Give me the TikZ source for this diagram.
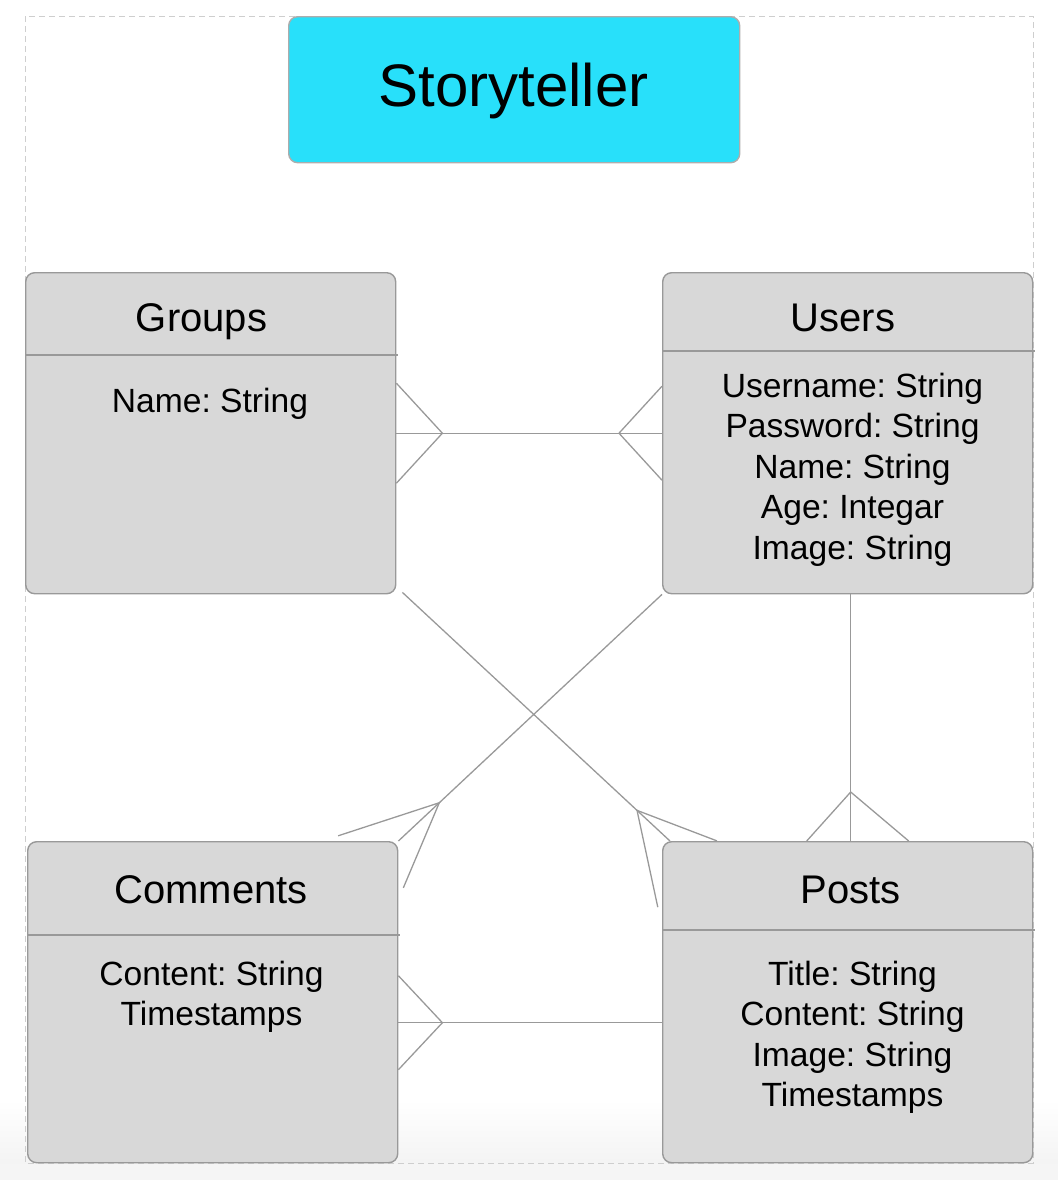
\documentclass[tikz,border=0pt]{standalone}
\usepackage{fontspec}
\setmainfont{Liberation Sans}
\usetikzlibrary{calc}
\definecolor{skycyan}{RGB}{40,224,250}
\definecolor{boxgray}{RGB}{216,216,216}
\definecolor{linegray}{RGB}{153,153,153}
\definecolor{framegray}{RGB}{206,206,206}
\tikzset{
  entity/.style={draw=linegray, fill=boxgray, rounded corners=4.5pt, line width=0.7pt,
    anchor=north west, minimum width=185pt, minimum height=160.5pt, inner sep=0pt},
  heading/.style={anchor=base, font=\fontsize{20}{24}\selectfont},
  field/.style={anchor=base, font=\fontsize{16.8}{20}\selectfont},
  rel/.style={draw=linegray, line width=0.65pt},
}
\frenchspacing

\begin{document}
\begin{tikzpicture}[x=0.5pt, y=-0.5pt]
  \useasboundingbox (0,0) rectangle (1058,1180);
  % page background and frame
  \shade[top color=white, bottom color=gray!9] (0,1100) rectangle (1058,1164);
  \fill[gray!8] (0,1164) rectangle (1058,1180);
  \draw[framegray, line width=0.5pt, dash pattern=on 3pt off 2pt] (25,16) rectangle (1033,1163);

  \node[entity, fill=skycyan, draw=linegray!80, minimum width=225.5pt, minimum height=73pt] (app) at (288,16) {};
  \node[anchor=base, font=\fontsize{30}{36}\selectfont] (apptitle) at (513.5,106.5) {Storyteller};

  % entities
  \node[entity] (groups) at (25,272) {};
  \node[entity] (users) at (662,272) {};
  \node[entity] (comments) at (27,841) {};
  \node[entity] (posts) at (662,841) {};
  \foreach \ent/\dy in {groups/83, users/79, comments/94, posts/89}
    \draw[rel] ($(\ent.north west)+(0,\dy)$) -- ($(\ent.north east)+(2,\dy)$);

  \node[heading] (groups-h) at (201.5,331) {Groups};
  \node[heading] (users-h) at (843,331) {Users};
  \node[heading] (comments-h) at (211,903.5) {Comments};
  \node[heading] (posts-h) at (850.5,903.5) {Posts};

  \node[field] (groups-f1) at (210,412) {Name: String};
  \foreach \lab [count=\i] in {Username: String, Password: String, Name: String, Age: Integar, Image: String}
    \node[field] (users-f\i) at (852.5,356.5+40.5*\i) {\lab};
  \foreach \lab [count=\i] in {Content: String, Timestamps}
    \node[field] (comments-f\i) at (211.5,944.5+40.5*\i) {\lab};
  \foreach \lab [count=\i] in {Title: String, Content: String, Image: String, Timestamps}
    \node[field] (posts-f\i) at (852.5,944.5+40.5*\i) {\lab};

  % groups -- users
  \draw[rel] (groups.east) -- (users.west);
  \draw[rel] ($(groups.east)+(0,-50)$) -- ++(46,50) -- ++(-46,50);
  \draw[rel] ($(users.west)+(0,-47)$) -- ++(-43,47) -- ++(43,47);

  % users -- comments
  \coordinate (ucfoot) at ($(comments.north east)!28pt!(users.south west)$);
  \draw[rel] (users.south west) -- (comments.north east);
  \draw[rel] ($(ucfoot)!1.9!-25:(comments.north east)$) -- (ucfoot)
    -- ($(ucfoot)!1.65!24:(comments.north east)$);

  % groups -- posts
  \coordinate (gpstart) at ($(groups.south east)+(6,-2)$);
  \coordinate (gpend) at ($(posts.north west)+(8,0)$);
  \coordinate (gpfoot) at ($(gpend)!22.5pt!(gpstart)$);
  \draw[rel] (gpstart) -- (gpend);
  \draw[rel] ($(gpfoot)!1.9!22:(gpend)$) -- (gpfoot) -- ($(gpfoot)!2.2!-35:(gpend)$);

  % users -- posts
  \draw[rel] ($(users.south)+(3,0)$) -- ($(posts.north)+(3,0)$);
  \draw[rel] ($(posts.north)+(-41,0)$) -- ++(44,-49) -- ++(58,49);

  % comments -- posts
  \draw[rel] ($(comments.east)+(0,20.5)$) -- ($(posts.west)+(0,20.5)$);
  \draw[rel] ($(comments.east)+(0,-26.5)$) -- ++(44,47) -- ++(-44,47);
\end{tikzpicture}
\end{document}
